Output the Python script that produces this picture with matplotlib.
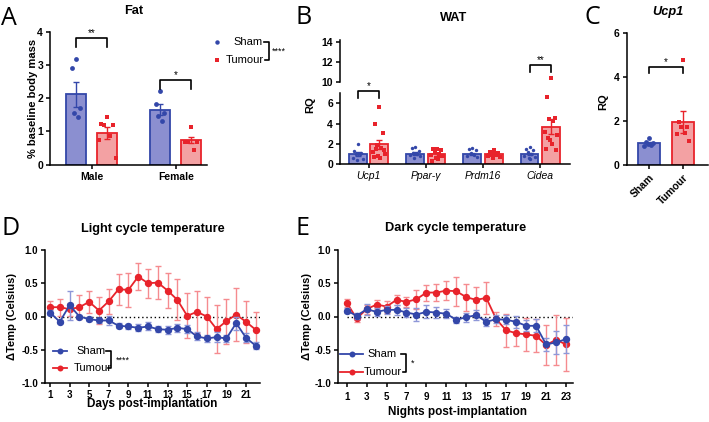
import matplotlib
matplotlib.use("Agg")
import matplotlib.pyplot as plt

plt.rcParams["font.family"] = ["Liberation Sans", "DejaVu Sans"]
plt.rcParams["font.weight"] = "bold"
plt.rcParams["axes.linewidth"] = 1.1
plt.rcParams["xtick.major.width"] = 1.1
plt.rcParams["ytick.major.width"] = 1.1
plt.rcParams["xtick.major.size"] = 3
plt.rcParams["ytick.major.size"] = 3

# ---- data -------------------------------------------------------------
fat_groups = ["Male", "Female"]
fat_sham_mean = [2.12, 1.66]
fat_sham_sem = [0.38, 0.17]
fat_tum_mean = [0.95, 0.73]
fat_tum_sem = [0.17, 0.09]
fat_sham_pts = [[3.17, 2.90, 1.72, 1.56, 1.44], [2.22, 1.84, 1.54, 1.47, 1.31]]
fat_tum_pts = [[1.42, 1.22, 1.18, 1.19, 0.86, 0.74, 0.19],
               [1.13, 0.69, 0.69, 0.69, 0.43]]

wat_genes = ["Ucp1", "Ppar-γ", "Prdm16", "Cidea"]
wat_sham_mean = [0.98, 1.02, 1.00, 0.98]
wat_sham_sem = [0.17, 0.12, 0.12, 0.13]
wat_tum_mean = [1.95, 0.95, 0.95, 3.71]
wat_tum_sem = [0.43, 0.12, 0.09, 0.78]
wat_sham_pts = [[1.95, 1.25, 1.10, 1.00, 0.95, 0.60, 0.45, 0.40],
                [1.70, 1.60, 1.30, 1.10, 1.00, 0.90, 0.80, 0.60],
                [1.60, 1.50, 1.40, 1.10, 0.90, 0.80, 0.70],
                [1.65, 1.50, 1.40, 1.20, 1.00, 0.80, 0.70, 0.60, 0.50]]
wat_tum_pts = [[5.60, 4.00, 3.10, 1.90, 1.60, 1.20, 1.00, 0.80, 0.60, 0.70, 1.40, 1.50],
               [1.50, 1.50, 1.40, 1.20, 1.00, 0.90, 0.80, 0.60, 0.50, 0.30, 0.80],
               [1.40, 1.20, 1.10, 1.00, 0.90, 0.80, 0.70, 0.60, 1.00, 0.90],
               [8.55, 6.60, 4.60, 4.50, 4.30, 3.20, 2.90, 2.40, 2.00, 1.50, 1.40, 2.60]]

ucp1_groups = ["Sham", "Tumour"]
ucp1_mean = [1.01, 1.97]
ucp1_sem = [0.05, 0.49]
ucp1_sham_pts = [1.22, 1.05, 1.02, 0.98, 0.92, 0.88]
ucp1_tum_pts = [4.75, 1.95, 1.75, 1.72, 1.48, 1.42, 1.10]

days = list(range(1, 23))
light_sham = [0.06, -0.08, 0.17, 0.00, -0.04, -0.06, -0.06, -0.14, -0.15, -0.17, -0.15,
              -0.19, -0.20, -0.17, -0.19, -0.30, -0.33, -0.31, -0.33, -0.10, -0.32, -0.44]
light_sham_err = [0.04, 0.02, 0.22, 0.03, 0.03, 0.04, 0.07, 0.04, 0.04, 0.05, 0.06,
                  0.05, 0.06, 0.06, 0.06, 0.06, 0.05, 0.08, 0.05, 0.10, 0.07, 0.05]
light_tum = [0.14, 0.14, 0.11, 0.14, 0.22, 0.09, 0.23, 0.41, 0.40, 0.60, 0.50,
             0.51, 0.39, 0.25, 0.01, 0.07, 0.00, -0.19, -0.07, 0.03, -0.08, -0.20]
light_tum_err = [0.10, 0.13, 0.10, 0.18, 0.16, 0.20, 0.19, 0.23, 0.25, 0.20, 0.22,
                 0.25, 0.26, 0.31, 0.34, 0.32, 0.30, 0.36, 0.34, 0.40, 0.32, 0.27]

nights = list(range(1, 24))
dark_sham = [0.09, 0.01, 0.11, 0.07, 0.10, 0.10, 0.06, 0.03, 0.07, 0.06, 0.04, -0.05,
             -0.01, 0.02, -0.08, -0.04, -0.05, -0.08, -0.14, -0.14, -0.42, -0.39, -0.34]
dark_sham_err = [0.04, 0.05, 0.08, 0.06, 0.06, 0.08, 0.07, 0.10, 0.10, 0.09, 0.07, 0.05,
                 0.07, 0.08, 0.06, 0.06, 0.07, 0.09, 0.08, 0.10, 0.10, 0.17, 0.21]
dark_tum = [0.21, -0.03, 0.11, 0.18, 0.15, 0.25, 0.22, 0.26, 0.36, 0.36, 0.39, 0.38,
            0.29, 0.25, 0.28, -0.04, -0.21, -0.25, -0.27, -0.29, -0.43, -0.35, -0.42]
dark_tum_err = [0.06, 0.05, 0.07, 0.07, 0.09, 0.07, 0.08, 0.14, 0.12, 0.13, 0.14, 0.22,
                0.20, 0.20, 0.24, 0.11, 0.25, 0.20, 0.25, 0.25, 0.30, 0.38, 0.40]

# ---- style --------------------------------------------------------------
SHAM = "#3347A9"
SHAM_FILL = "#8B8FD0"
SHAM_ERR = "#8E97D8"
TUM = "#E8232B"
TUM_FILL = "#F3A1A3"
TUM_ERR = "#F58B8F"

W, H = 709, 422
fig = plt.figure(figsize=(W / 100, H / 100), dpi=100)


def box(l, t, r, b):
    return [l / W, 1 - b / H, (r - l) / W, (b - t) / H]


def clean(ax, fs=7):
    ax.spines["top"].set_visible(False)
    ax.spines["right"].set_visible(False)
    ax.tick_params(labelsize=fs, pad=2)


def spread(n, w):
    pattern = [0, -1, 1, -0.5, 0.5, -1.5, 1.5, -0.25, 0.25, -1.25, 1.25, -0.75, 0.75]
    return [p * w for p in pattern[:n]]


def bar_group(ax, x, mean, sem, pts, fill, edge, marker, width, s, jit):
    ax.bar(x, mean, width, color=fill, edgecolor=edge, linewidth=1.3, zorder=2)
    ax.errorbar(x, mean, yerr=sem, color=edge, capsize=2.5, lw=1, capthick=1, zorder=3)
    offs = spread(len(pts), jit)
    ax.scatter([x + o for o in offs], pts, s=s, color=edge, marker=marker,
               linewidths=0, zorder=4, clip_on=False)


def bracket(ax, x1, x2, y, drop, label, fs=7):
    ax.plot([x1, x1, x2, x2], [y - drop, y, y, y - drop], color="k", lw=1.2,
            clip_on=False, zorder=5)
    ax.text((x1 + x2) / 2, y, label, ha="center", va="bottom", fontsize=fs,
            fontweight="normal", clip_on=False)


# ---- A: fat ---------------------------------------------------------------
axA = fig.add_axes(box(50, 31.7, 207, 164.7))
clean(axA, 7.5)
for i in range(len(fat_groups)):
    bar_group(axA, i - 0.185, fat_sham_mean[i], fat_sham_sem[i], fat_sham_pts[i],
              SHAM_FILL, SHAM, "o", 0.242, 12, 0.05)
    bar_group(axA, i + 0.185, fat_tum_mean[i], fat_tum_sem[i], fat_tum_pts[i],
              TUM_FILL, TUM, "s", 0.242, 12, 0.07)
axA.set_xlim(-0.498, 1.373)
axA.set_ylim(0, 4)
axA.set_yticks([0, 1, 2, 3, 4])
axA.set_xticks(range(len(fat_groups)))
axA.set_xticklabels(fat_groups)
bracket(axA, -0.185, 0.185, 3.82, 0.27, "**")
bracket(axA, 0.815, 1.185, 2.55, 0.28, "*")

# ---- B: WAT (broken axis) ----------------------------------------------
axB = fig.add_axes(box(340, 92.8, 570, 164))
clean(axB, 7.5)
for i in range(len(wat_genes)):
    bar_group(axB, i - 0.187, wat_sham_mean[i], wat_sham_sem[i], wat_sham_pts[i],
              SHAM_FILL, SHAM, "o", 0.31, 6, 0.06)
    bar_group(axB, i + 0.187, wat_tum_mean[i], wat_tum_sem[i], wat_tum_pts[i],
              TUM_FILL, TUM, "s", 0.31, 6, 0.07)
axB.set_xlim(-0.5, 3.52)
axB.set_ylim(0, 7.05)
axB.set_yticks([0, 2, 4, 6])
axB.set_xticks(range(len(wat_genes)))
axB.set_xticklabels(wat_genes, fontstyle="italic", fontweight="normal", fontsize=7.5)
bracket(axB, -0.187, 0.187, 7.2, 0.7, "*")
bracket(axB, 2.813, 3.187, 9.8, 0.72, "**")

axB2 = fig.add_axes(box(340, 39.7, 570, 81.7))
axB2.patch.set_alpha(0)
for s in ("top", "right", "bottom"):
    axB2.spines[s].set_visible(False)
axB2.set_xticks([])
axB2.set_ylim(10, 14.2)
axB2.set_yticks([10, 12, 14])
axB2.tick_params(labelsize=7.5, pad=2)

# ---- C: Ucp1 -------------------------------------------------------------
axC = fig.add_axes(box(626.7, 32.7, 708, 165.3))
clean(axC, 7.5)
bar_group(axC, 0, ucp1_mean[0], ucp1_sem[0], ucp1_sham_pts, SHAM_FILL, SHAM, "o",
          0.64, 12, 0.1)
bar_group(axC, 1, ucp1_mean[1], ucp1_sem[1], ucp1_tum_pts, TUM_FILL, TUM, "s",
          0.64, 12, 0.12)
axC.set_xlim(-0.665, 1.73)
axC.set_ylim(0, 6)
axC.set_yticks([0, 2, 4, 6])
axC.set_xticks([0, 1])
axC.set_xticklabels(ucp1_groups, rotation=45, ha="right", rotation_mode="anchor")
bracket(axC, 0, 1, 4.46, 0.3, "*")


# ---- D / E: temperature ---------------------------------------------------
def temp_panel(ax, x, sham, sham_err, tum, tum_err, xticks):
    clean(ax, 7)
    ax.hlines(0, x[0], 30, colors="k", linestyles=(0, (1, 2)), lw=1, zorder=1)
    ax.errorbar(x, tum, yerr=tum_err, color=TUM, ecolor=TUM_ERR, marker="o", ms=4.3,
                lw=1.3, elinewidth=1, capsize=2.2, capthick=1, zorder=3)
    ax.errorbar(x, sham, yerr=sham_err, color=SHAM, ecolor=SHAM_ERR, marker="o",
                ms=4.3, lw=1.3, elinewidth=1, capsize=2.2, capthick=1, zorder=4)
    ax.set_ylim(-1, 1)
    ax.set_yticks([-1.0, -0.5, 0.0, 0.5, 1.0])
    ax.set_yticklabels(["-1.0", "-0.5", "0.0", "0.5", "1.0"])
    ax.set_xticks(xticks)


axD = fig.add_axes(box(45, 250, 260, 383))
temp_panel(axD, days, light_sham, light_sham_err, light_tum, light_tum_err,
           range(1, 23, 2))
axD.set_xlim(0.49, 22.43)

axE = fig.add_axes(box(338, 250, 572.7, 383))
temp_panel(axE, nights, dark_sham, dark_sham_err, dark_tum, dark_tum_err,
           range(1, 24, 2))
axE.set_xlim(0.13, 23.67)
axE.tick_params(axis="x", pad=3.5)

# ---- overlay: letters, titles, labels, legends --------------------------
ov = fig.add_axes([0, 0, 1, 1])
ov.set_xlim(0, W)
ov.set_ylim(H, 0)
ov.axis("off")
ov.patch.set_alpha(0)

for letter, x, y in [("A", 1, 25), ("B", 296, 24), ("C", 584, 24),
                     ("D", 1, 235), ("E", 296, 235)]:
    ov.text(x, y, letter, fontsize=18, fontweight="normal", family="Open Sans",
            ha="left", va="baseline")

for txt, x, y, st in [("Fat", 133.7, 11, "normal"), ("WAT", 454, 18, "normal"),
                      ("Ucp1", 668, 11.7, "italic"),
                      ("Light cycle temperature", 152.5, 229, "normal"),
                      ("Dark cycle temperature", 455.8, 228.3, "normal")]:
    ov.text(x, y, txt, fontsize=9.2, fontstyle=st, ha="center", va="center")

for txt, x, y in [("% baseline body mass", 33.3, 98), ("RQ", 310, 105),
                  ("RQ", 603.3, 101.7), ("ΔTemp (Celsius)", 11.7, 316.7),
                  ("ΔTemp (Celsius)", 306.7, 316.7)]:
    ov.text(x, y, txt, fontsize=8, rotation=90, ha="center", va="center")

ov.text(151.7, 407.5, "Days post-implantation", fontsize=8.5, ha="center",
        va="baseline")
ov.text(457, 414.5, "Nights post-implantation", fontsize=8.5, ha="center",
        va="baseline")

# legend A
ov.plot([217.3], [42], "o", color=SHAM, ms=3.2, mew=0)
ov.plot([217.3], [60], "s", color=TUM, ms=3.2, mew=0)
ov.text(233, 42, "Sham", fontsize=8, fontweight="normal", va="center")
ov.text(226, 60, "Tumour", fontsize=8, fontweight="normal", va="center")
ov.plot([264, 269, 269, 265], [42, 42, 60, 60], color="k", lw=1.2)
ov.text(272, 51, "****", fontsize=6.5, fontweight="normal", va="center")


def line_legend(x0, x1, ys, tx, brx, star, sy):
    for y, c in zip(ys, [SHAM, TUM]):
        ov.plot([x0, x1], [y, y], color=c, lw=1.3)
        ov.plot([(x0 + x1) / 2], [y], "o", color=c, ms=4.3, mew=0)
    ov.text(tx[0], ys[0], "Sham", fontsize=8, fontweight="normal", va="center")
    ov.text(tx[1], ys[1], "Tumour", fontsize=8, fontweight="normal", va="center")
    ov.plot([brx - 5, brx, brx, brx - 3], [ys[0], ys[0], ys[1], ys[1]], color="k", lw=1.2)
    ov.text(brx + 5, sy, star, fontsize=6.5, fontweight="normal", va="center")


line_legend(53, 67, [350.7, 368.3], [76.7, 73.3], 111, "****", 360)
line_legend(340, 363, [354.3, 372.3], [367.3, 364], 406, "*", 363)

fig.savefig("out.png", dpi=100)
